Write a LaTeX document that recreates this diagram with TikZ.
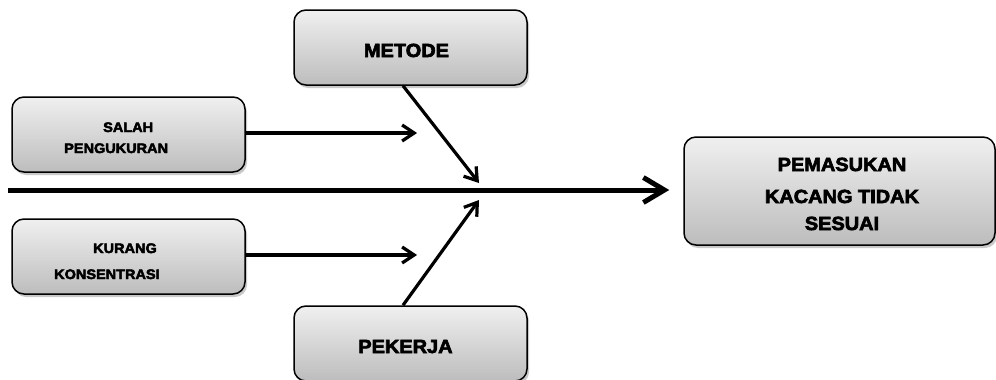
\documentclass[tikz,border=0pt]{standalone}
\usepackage{fontspec}
\setmainfont{Liberation Sans}[BoldFeatures={FakeBold=3.5,FakeStretch=1.05}]
\usetikzlibrary{arrows.meta,shadows,calc}

\begin{document}
\begin{tikzpicture}[x=1pt,y=-1pt,
  causebox/.style={draw=black, line width=1.5pt, rounded corners=12pt,
    top color=black!6, bottom color=black!26,
    minimum width=233pt, minimum height=75pt, inner sep=0pt,
    drop shadow={shadow xshift=2pt, shadow yshift=-3pt, opacity=0.3, fill=black!70}},
  bigtext/.style={font=\fontsize{19}{24}\selectfont\bfseries, inner sep=0pt, anchor=base},
  smalltext/.style={font=\fontsize{13.8}{17}\selectfont\bfseries, inner sep=0pt, anchor=base west},
  spinearrow/.style={line width=5pt, -{Straight Barb[length=21pt,width=25pt]}},
  branch/.style={line width=3.2pt, -{Straight Barb[length=12pt,width=16pt]}}
]
\useasboundingbox (0,0) rectangle (996,380);

% cause boxes
\node[causebox] (metode)  at (410.5,47.5)  {};
\node[causebox] (salah)   at (128.5,134.5) {};
\node[causebox] (kurang)  at (128.5,256.5) {};
\node[causebox] (pekerja) at (410.5,343.5) {};

% effect box
\node[causebox, minimum width=311pt, minimum height=108pt] (effect) at (839.5,191) {};

% labels
\node[bigtext] (tmetode)  at (406.5,57)  {METODE};
\node[bigtext] (tpekerja) at (405.5,353) {PEKERJA};
\node[bigtext] (teff1) at (842,171) {PEMASUKAN};
\node[bigtext] (teff2) at (842,203) {KACANG TIDAK};
\node[bigtext] (teff3) at (842,230) {SESUAI};
\node[smalltext] (tsalah1) at (103,132) {SALAH};
\node[smalltext] (tsalah2) at (64,153)  {PENGUKURAN};
\node[smalltext] (tkurang1) at (93,253) {KURANG};
\node[smalltext] (tkurang2) at (54,279) {KONSENTRASI};

% spine and branches
\coordinate (spine) at (8,190);
\coordinate (jtop) at (479,183);
\coordinate (jbot) at (479,200);
\coordinate (ha) at (417,133);
\coordinate (hb) at (417,255);

\draw[spinearrow, shorten >=14pt] (spine) -- (spine -| effect.west);
\draw[branch] ([xshift=-7.5pt]metode.south) -- (jtop);
\draw[branch] ([xshift=-7.5pt]pekerja.north) -- (jbot);
\draw[branch] (salah.east |- ha) -- (ha);
\draw[branch] (kurang.east |- hb) -- (hb);
\end{tikzpicture}
\end{document}
